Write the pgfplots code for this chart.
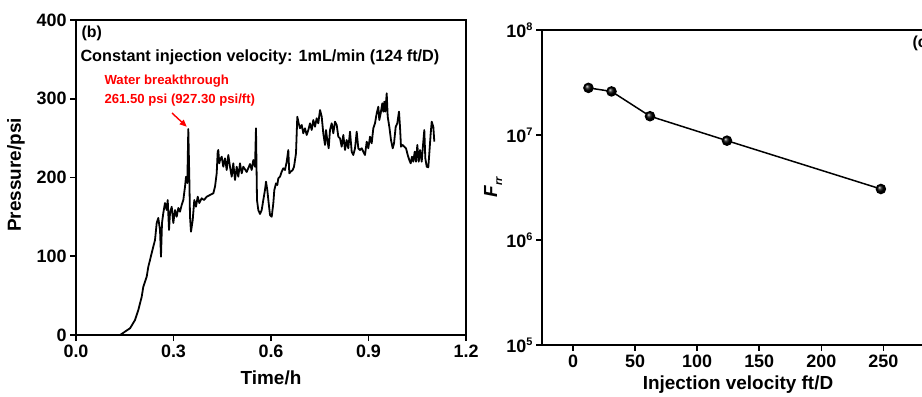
\documentclass[border=0pt]{standalone}
\usepackage{pgfplots}
\pgfplotsset{compat=1.18}
\usepackage{fontspec}
\setmainfont{Liberation Sans}
\usetikzlibrary{arrows.meta}
\newcommand{\tickfont}{\bfseries\fontsize{18}{18}\selectfont}
\newcommand{\labfont}{\bfseries\fontsize{19}{19}\selectfont}
\newcommand{\mysup}[1]{\raisebox{0.75ex}{\fontsize{11}{11}\selectfont #1}}
\begin{document}
\begin{tikzpicture}[x=1bp,y=1bp]
\useasboundingbox (0,0) rectangle (922,396);
\clip (0,0) rectangle (922,396);
\pgfplotsset{
  myaxis/.style={
    anchor=south west, scale only axis,
    axis line style={line width=2bp},
    tick style={line width=1.6bp,black},
    tick align=outside, major tick length=6bp,
    xtick pos=left, ytick pos=left,
    ticklabel style={font=\tickfont},
    /pgf/number format/assume math mode=true,
    clip=false,
  }
}
\begin{axis}[myaxis, at={(76bp,61bp)}, width=390bp, height=315bp,
  xmin=0, xmax=1.2, ymin=0, ymax=400,
  xtick={0,0.3,0.6,0.9,1.2}, ytick={0,100,200,300,400},
  xticklabel style={/pgf/number format/.cd, fixed, fixed zerofill, precision=1},
  yticklabel style={/pgf/number format/.cd, fixed, precision=0},
]
\addplot[black, line width=1.8bp, line join=round] coordinates {
(0,0) (0.1354,0) (0.1662,8.5) (0.1815,19.0) (0.1917,31.7) (0.2022,48.6)
(0.2071,61.3) (0.2123,67.7) (0.2175,74.0) (0.2225,86.7) (0.2277,95.2)
(0.2329,104.1) (0.2378,112.1) (0.2431,120.6) (0.2483,142.2) (0.2532,148.6)
(0.2585,133.3) (0.2615,99.4) (0.2646,142.2) (0.2686,154.9) (0.2738,167.6)
(0.2791,158.7) (0.2822,171.4) (0.2862,133.3) (0.2892,154.9) (0.2945,162.9)
(0.2994,142.2) (0.3046,158.7) (0.3098,150.2) (0.3148,161.3) (0.3200,156.6)
(0.3252,165.1) (0.3302,171.4) (0.3354,188.3) (0.3385,201.0) (0.3425,193.0)
(0.3455,261.5) (0.3486,201.0) (0.3508,150.2) (0.3538,131.2) (0.3591,146.0)
(0.3640,171.4) (0.3692,162.9) (0.3745,175.6) (0.3794,167.6) (0.3868,173.6)
(0.3938,171.4) (0.4022,175.6) (0.4123,177.8) (0.4225,179.9) (0.4277,188.3)
(0.4329,205.3) (0.4360,232.8) (0.4378,234.9) (0.4409,218.0) (0.4431,222.2)
(0.4483,226.4) (0.4532,213.7) (0.4585,224.4) (0.4637,209.5) (0.4686,228.6)
(0.4738,213.7) (0.4791,201.0) (0.4840,218.0) (0.4892,196.8) (0.4945,213.7)
(0.4994,201.0) (0.5046,218.0) (0.5098,205.3) (0.5148,213.7) (0.5252,207.0)
(0.5354,217.1) (0.5406,209.5) (0.5455,222.2) (0.5508,213.7) (0.5538,262.5)
(0.5569,171.4) (0.5609,158.7) (0.5662,153.7) (0.5714,158.7) (0.5763,171.4)
(0.5815,184.1) (0.5846,194.7) (0.5886,184.1) (0.5929,167.2) (0.5969,152.4)
(0.6022,150.2) (0.6071,167.2) (0.6102,184.1) (0.6154,192.6) (0.6194,190.5)
(0.6225,199.0) (0.6277,201.0) (0.6329,207.4) (0.6378,211.7) (0.6431,209.5)
(0.6483,220.1) (0.6532,234.9) (0.6563,205.3) (0.6606,207.4) (0.6668,209.5)
(0.6708,213.7) (0.6769,230.7) (0.6809,277.2) (0.6852,268.8) (0.6892,262.5)
(0.6945,266.7) (0.6994,256.1) (0.7046,262.5) (0.7098,254.0) (0.7148,260.3)
(0.7200,268.8) (0.7252,260.3) (0.7302,273.0) (0.7354,264.5) (0.7406,275.2)
(0.7455,268.8) (0.7508,285.7) (0.7560,277.2) (0.7609,256.1) (0.7662,241.3)
(0.7692,260.3) (0.7732,247.6) (0.7775,237.1) (0.7815,260.3) (0.7868,268.8)
(0.7917,256.1) (0.7969,270.9) (0.8022,266.7) (0.8071,251.8) (0.8123,249.8)
(0.8175,239.1) (0.8225,254.0) (0.8277,234.9) (0.8329,247.6) (0.8378,237.1)
(0.8431,258.2) (0.8483,232.8) (0.8532,228.6) (0.8585,237.1) (0.8637,258.2)
(0.8686,237.1) (0.8738,234.9) (0.8791,237.1) (0.8840,232.8) (0.8892,228.6)
(0.8945,245.5) (0.8994,237.1) (0.9046,251.8) (0.9098,243.4) (0.9148,262.5)
(0.9200,268.8) (0.9252,281.5) (0.9302,289.9) (0.9332,273.0) (0.9375,281.5)
(0.9425,294.2) (0.9455,283.6) (0.9486,296.3) (0.9517,283.6) (0.9560,306.9)
(0.9591,277.2) (0.9640,264.5) (0.9692,247.6) (0.9745,237.1) (0.9785,243.4)
(0.9837,264.5) (0.9886,268.8) (0.9938,283.6) (0.9969,264.5) (1.0000,239.1)
(1.0052,241.3) (1.0102,239.1) (1.0154,237.1) (1.0206,228.6) (1.0255,222.2)
(1.0298,218.0) (1.0338,226.4) (1.0378,220.1) (1.0422,232.8) (1.0462,220.1)
(1.0502,241.3) (1.0545,220.1) (1.0585,234.9) (1.0637,220.1) (1.0686,245.5)
(1.0717,260.3) (1.0748,224.4) (1.0791,213.7) (1.0840,213.0) (1.0871,230.7)
(1.0914,256.1) (1.0945,270.9) (1.0994,264.5) (1.1025,245.5)
};
\draw[red, line width=1.4bp, -{Triangle[length=7bp,width=6bp]}] (axis cs:0.2954,281.9) -- (axis cs:0.3406,264.5);
\end{axis}
\begin{axis}[myaxis, at={(542bp,51bp)}, width=391bp, height=315bp,
  xmin=-25, xmax=290, ymode=log, ymin=1e5, ymax=1e8,
  xtick={0,50,100,150,200,250},
  ytick={1e5,1e6,1e7,1e8},
  yticklabels={10\mysup{5},10\mysup{6},10\mysup{7},10\mysup{8}},
  yminorticks=false,
  xticklabel style={/pgf/number format/.cd, fixed, precision=0},
]
\addplot[black, line width=1.5bp, mark=ball, mark size=4.5bp, mark options={ball color=black}] coordinates {
(12.4,2.81e7) (31,2.60e7) (62,1.51e7) (124,8.83e6) (248,3.06e6)
};
\end{axis}
\node[anchor=west, font=\bfseries\fontsize{16}{16}\selectfont] at (78,362.7) {(b)};
\node[anchor=west, font=\bfseries\fontsize{16.3}{16.3}\selectfont] at (77,339) {Constant injection velocity: 1mL/min (124 ft/D)};
\node[anchor=west, text=red, font=\bfseries\fontsize{13.2}{13.2}\selectfont] at (101,314.5) {Water breakthrough};
\node[anchor=west, text=red, font=\bfseries\fontsize{13.2}{13.2}\selectfont] at (101,296) {261.50 psi (927.30 psi/ft)};
\node[anchor=west, font=\bfseries\fontsize{16}{16}\selectfont] at (909,352.7) {(c)};
\node[font=\labfont] at (271,18.5) {Time/h};
\node[font=\labfont] at (738,11) {Injection velocity ft/D};
\node[font=\labfont, rotate=90] at (16,221) {Pressure/psi};
\node[font=\labfont, rotate=90] at (493,209) {\textit{F}\raisebox{-0.5ex}{\fontsize{11}{11}\selectfont\textit{rr}}};
\end{tikzpicture}
\end{document}
